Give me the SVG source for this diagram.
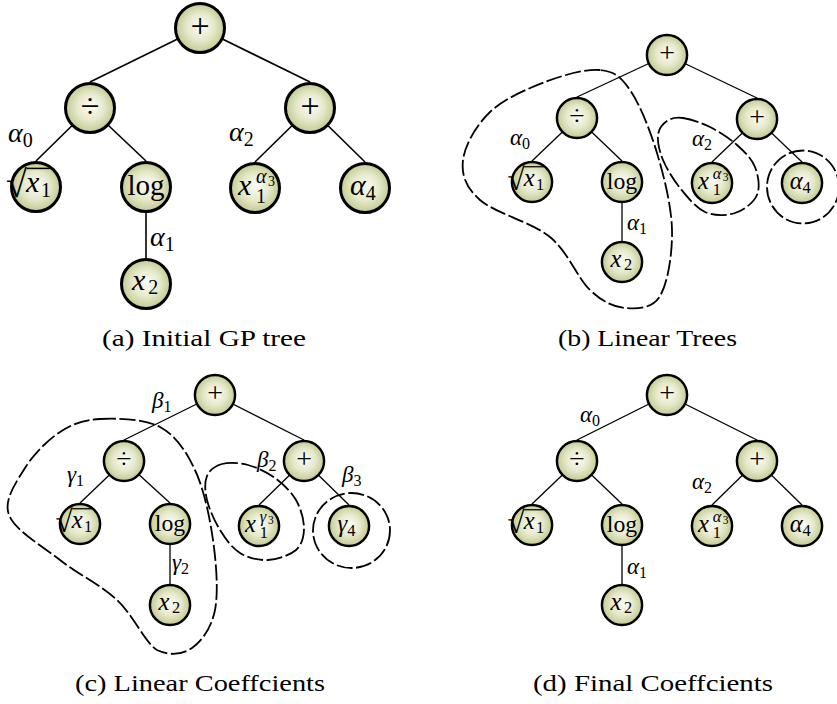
<svg xmlns="http://www.w3.org/2000/svg" width="837" height="704" viewBox="0 0 837 704" font-family="Liberation Serif, serif">
<defs>
<radialGradient id="ball" cx="0.5" cy="0.5" r="0.5" fx="0.52" fy="0.45">
<stop offset="0" stop-color="#fcfcf5"/>
<stop offset="0.55" stop-color="#e6e9cc"/>
<stop offset="1" stop-color="#c3ca90"/>
</radialGradient>
</defs>
<style>
.node{fill:url(#ball);stroke:#000;stroke-width:3}
.t{fill:#000}
.it{font-style:italic}
.up{font-style:normal}
.op{text-anchor:middle}
.edge{stroke:#000;fill:none}
.ea{stroke-width:1.6}
.eb{stroke-width:1.3}
.blob{fill:none;stroke:#000;stroke-width:1.8;stroke-dasharray:16 3.5}
.bar{stroke:#000;stroke-width:1.5}
.cap{font-size:24px;fill:#000}
</style>
<rect width="837" height="704" fill="#fff"/>

<g id="connectors">
<g class="edge ea">
<line x1="200" y1="28" x2="90" y2="82"/>
<line x1="200" y1="28" x2="310" y2="82"/>
<line x1="90" y1="108" x2="36" y2="161"/>
<line x1="90" y1="108" x2="146" y2="161"/>
<line x1="310" y1="108" x2="255" y2="162"/>
<line x1="310" y1="108" x2="365" y2="162"/>
<line x1="146" y1="187" x2="146" y2="258"/>
</g>
<g class="edge eb">
<line x1="667" y1="55" x2="577" y2="97"/>
<line x1="667" y1="55" x2="757" y2="98"/>
<line x1="577" y1="118" x2="532" y2="161"/>
<line x1="577" y1="118" x2="622" y2="161"/>
<line x1="757" y1="119" x2="712" y2="162"/>
<line x1="757" y1="119" x2="802" y2="162"/>
<line x1="622" y1="182" x2="622" y2="241"/>

<line x1="215" y1="395" x2="124" y2="440"/>
<line x1="215" y1="395" x2="304" y2="440"/>
<line x1="124" y1="461" x2="80" y2="503"/>
<line x1="124" y1="461" x2="170" y2="503"/>
<line x1="304" y1="461" x2="259" y2="505"/>
<line x1="304" y1="461" x2="349" y2="505"/>
<line x1="170" y1="524" x2="170" y2="584"/>

<line x1="667" y1="395" x2="577" y2="440"/>
<line x1="667" y1="395" x2="757" y2="440"/>
<line x1="577" y1="461" x2="532" y2="504"/>
<line x1="577" y1="461" x2="622" y2="504"/>
<line x1="757" y1="461" x2="712" y2="505"/>
<line x1="757" y1="461" x2="802" y2="505"/>
<line x1="622" y1="525" x2="622" y2="584"/>
</g>
</g>

<g id="groupings">
<path class="blob" d="M600,70 C585.8,68.7 563.3,75 545,82 C526.7,89 503.7,99 490,112 C476.3,125 464.7,145.3 463,160 C461.3,174.7 465.5,187.2 480,200 C494.5,212.8 531.7,222 550,237 C568.3,252 577.5,278.2 590,290 C602.5,301.8 613.3,307 625,308 C636.7,309 652.2,309 660,296 C667.8,283 672.5,253.8 672,230 C671.5,206.2 664,176.3 657,153 C650,129.7 639.5,103.8 630,90 C620.5,76.2 614.2,71.3 600,70 Z"/>
<path class="blob" d="M683,118 C690.2,119 701,122.5 710,127 C719,131.5 729.5,138.3 737,145 C744.5,151.7 751.7,158.7 755,167 C758.3,175.3 760.3,187.3 757,195 C753.7,202.7 743.7,210.2 735,213 C726.3,215.8 714.2,216.2 705,212 C695.8,207.8 687,196.7 680,188 C673,179.3 666.7,168.8 663,160 C659.3,151.2 657.3,141.5 658,135 C658.7,128.5 662.8,123.8 667,121 C671.2,118.2 675.8,117 683,118 Z"/>
<ellipse class="blob" cx="803" cy="187" rx="36" ry="36.5"/>
<path class="blob" d="M100,419 C116.7,418.2 144.2,418.5 160,427 C175.8,435.5 186.2,451.2 195,470 C203.8,488.8 209.7,516.7 213,540 C216.3,563.3 218.5,592 215,610 C211.5,628 201.7,641.3 192,648 C182.3,654.7 169.5,656 157,650 C144.5,642 133.2,615 117,600 C100.8,585 78,574.2 60,560 C42,545.8 14.8,530.3 9,515 C3.2,499.7 16.5,481.8 25,468 C33.5,454.2 47.5,440.2 60,432 C72.5,423.8 83.3,419.8 100,419 Z"/>
<path class="blob" d="M222,464 C228.8,462.2 239.2,462.7 248,465 C256.8,467.3 267,472.2 275,478 C283,483.8 291.2,491.7 296,500 C300.8,508.3 304,519.7 304,528 C304,536.3 302,544.7 296,550 C290,555.3 277.3,559.5 268,560 C258.7,560.5 248,558 240,553 C232,548 225.5,538.8 220,530 C214.5,521.2 209.2,509 207,500 C204.8,491 204.5,482 207,476 C209.5,470 215.2,465.8 222,464 Z"/>
<ellipse class="blob" cx="351.5" cy="530.5" rx="38.5" ry="37.5"/>
</g>

<!-- Panel (a) -->
<g id="a-root" transform="translate(200,28)"><circle class="node" r="24.5"/><text class="t op" y="9" font-size="34">+</text></g>
<g id="a-div" transform="translate(90,108)"><circle class="node" r="24.5"/><text class="t op" y="9" font-size="34">÷</text></g>
<g id="a-plus" transform="translate(310,108)"><circle class="node" r="24.5"/><text class="t op" y="9" font-size="34">+</text></g>
<g id="a-sqrt" transform="translate(36,187)"><circle class="node" r="24.5"/><line class="bar" x1="-9.5" y1="-18.6" x2="15" y2="-18.6"/><text class="t" font-size="38"><tspan x="-30" y="10">√</tspan><tspan class="it" x="-10" y="5" font-size="30">x</tspan><tspan x="5" y="10" font-size="20">1</tspan></text></g>
<g id="a-log" transform="translate(146,187)"><circle class="node" r="24.5"/><text class="t op" y="8" font-size="29">log</text></g>
<g id="a-pow" transform="translate(255,188)"><circle class="node" r="24.5"/><text class="t it" font-size="30"><tspan x="-17" y="7">x</tspan><tspan class="up" x="1" y="15" font-size="20">1</tspan><tspan x="1" y="-5" font-size="20">α</tspan><tspan class="up" x="13" y="-2" font-size="14">3</tspan></text></g>
<g id="a-alpha4" transform="translate(365,188)"><circle class="node" r="24.5"/><text class="t it" x="-15" y="7" font-size="30">α<tspan class="up" font-size="20" dy="5">4</tspan></text></g>
<g id="a-x2" transform="translate(146,284)"><circle class="node" r="24.5"/><text class="t it" x="-14" y="6" font-size="30">x<tspan class="up" font-size="20" dx="3" dy="4">2</tspan></text></g>
<g id="a-labels">
<text class="t it" x="8" y="142" font-size="28">α<tspan class="up" font-size="20" dy="5">0</tspan></text>
<text class="t it" x="229" y="141" font-size="28">α<tspan class="up" font-size="20" dy="5">2</tspan></text>
<text class="t it" x="150" y="246" font-size="28">α<tspan class="up" font-size="20" dy="5">1</tspan></text>
</g>

<!-- Panel (b) -->
<g id="b-root" transform="translate(667,55) scale(0.82)"><circle class="node" r="24.5"/><text class="t op" y="9" font-size="34">+</text></g>
<g id="b-div" transform="translate(577,118) scale(0.82)"><circle class="node" r="24.5"/><text class="t op" y="9" font-size="34">÷</text></g>
<g id="b-plus" transform="translate(757,119) scale(0.82)"><circle class="node" r="24.5"/><text class="t op" y="9" font-size="34">+</text></g>
<g id="b-sqrt" transform="translate(532,182) scale(0.82)"><circle class="node" r="24.5"/><line class="bar" x1="-9.5" y1="-18.6" x2="15" y2="-18.6"/><text class="t" font-size="38"><tspan x="-30" y="10">√</tspan><tspan class="it" x="-10" y="5" font-size="30">x</tspan><tspan x="5" y="10" font-size="20">1</tspan></text></g>
<g id="b-log" transform="translate(622,182) scale(0.82)"><circle class="node" r="24.5"/><text class="t op" y="8" font-size="29">log</text></g>
<g id="b-pow" transform="translate(712,183) scale(0.82)"><circle class="node" r="24.5"/><text class="t it" font-size="30"><tspan x="-17" y="7">x</tspan><tspan class="up" x="1" y="15" font-size="20">1</tspan><tspan x="1" y="-5" font-size="20">α</tspan><tspan class="up" x="13" y="-2" font-size="14">3</tspan></text></g>
<g id="b-alpha4" transform="translate(802,183) scale(0.82)"><circle class="node" r="24.5"/><text class="t it" x="-15" y="7" font-size="30">α<tspan class="up" font-size="20" dy="5">4</tspan></text></g>
<g id="b-x2" transform="translate(622,262) scale(0.82)"><circle class="node" r="24.5"/><text class="t it" x="-14" y="6" font-size="30">x<tspan class="up" font-size="20" dx="3" dy="4">2</tspan></text></g>
<g id="b-labels">
<text class="t it" x="510" y="145" font-size="23">α<tspan class="up" font-size="16" dy="4">0</tspan></text>
<text class="t it" x="692" y="146" font-size="23">α<tspan class="up" font-size="16" dy="4">2</tspan></text>
<text class="t it" x="627" y="230" font-size="23">α<tspan class="up" font-size="16" dy="4">1</tspan></text>
</g>

<!-- Panel (c) -->
<g id="c-root" transform="translate(215,395) scale(0.82)"><circle class="node" r="24.5"/><text class="t op" y="9" font-size="34">+</text></g>
<g id="c-div" transform="translate(124,461) scale(0.82)"><circle class="node" r="24.5"/><text class="t op" y="9" font-size="34">÷</text></g>
<g id="c-plus" transform="translate(304,461) scale(0.82)"><circle class="node" r="24.5"/><text class="t op" y="9" font-size="34">+</text></g>
<g id="c-sqrt" transform="translate(80,524) scale(0.82)"><circle class="node" r="24.5"/><line class="bar" x1="-9.5" y1="-18.6" x2="15" y2="-18.6"/><text class="t" font-size="38"><tspan x="-30" y="10">√</tspan><tspan class="it" x="-10" y="5" font-size="30">x</tspan><tspan x="5" y="10" font-size="20">1</tspan></text></g>
<g id="c-log" transform="translate(170,524) scale(0.82)"><circle class="node" r="24.5"/><text class="t op" y="8" font-size="29">log</text></g>
<g id="c-pow" transform="translate(259,526) scale(0.82)"><circle class="node" r="24.5"/><text class="t it" font-size="30"><tspan x="-17" y="7">x</tspan><tspan class="up" x="1" y="15" font-size="20">1</tspan><tspan x="1" y="-5" font-size="20">γ</tspan><tspan class="up" x="11" y="-2" font-size="14">3</tspan></text></g>
<g id="c-gamma4" transform="translate(349,526) scale(0.82)"><circle class="node" r="24.5"/><text class="t it" x="-14" y="7" font-size="30">γ<tspan class="up" font-size="20" dy="5">4</tspan></text></g>
<g id="c-x2" transform="translate(170,605) scale(0.82)"><circle class="node" r="24.5"/><text class="t it" x="-14" y="6" font-size="30">x<tspan class="up" font-size="20" dx="3" dy="4">2</tspan></text></g>
<g id="c-labels">
<text class="t it" x="152" y="408" font-size="23">β<tspan class="up" font-size="16" dy="4">1</tspan></text>
<text class="t it" x="67" y="482" font-size="23">γ<tspan class="up" font-size="16" dy="4">1</tspan></text>
<text class="t it" x="172" y="570" font-size="23">γ<tspan class="up" font-size="16" dy="4">2</tspan></text>
<text class="t it" x="257" y="467" font-size="23">β<tspan class="up" font-size="16" dy="4">2</tspan></text>
<text class="t it" x="342" y="482" font-size="23">β<tspan class="up" font-size="16" dy="4">3</tspan></text>
</g>

<!-- Panel (d) -->
<g id="d-root" transform="translate(667,395) scale(0.82)"><circle class="node" r="24.5"/><text class="t op" y="9" font-size="34">+</text></g>
<g id="d-div" transform="translate(577,461) scale(0.82)"><circle class="node" r="24.5"/><text class="t op" y="9" font-size="34">÷</text></g>
<g id="d-plus" transform="translate(757,461) scale(0.82)"><circle class="node" r="24.5"/><text class="t op" y="9" font-size="34">+</text></g>
<g id="d-sqrt" transform="translate(532,525) scale(0.82)"><circle class="node" r="24.5"/><line class="bar" x1="-9.5" y1="-18.6" x2="15" y2="-18.6"/><text class="t" font-size="38"><tspan x="-30" y="10">√</tspan><tspan class="it" x="-10" y="5" font-size="30">x</tspan><tspan x="5" y="10" font-size="20">1</tspan></text></g>
<g id="d-log" transform="translate(622,525) scale(0.82)"><circle class="node" r="24.5"/><text class="t op" y="8" font-size="29">log</text></g>
<g id="d-pow" transform="translate(712,526) scale(0.82)"><circle class="node" r="24.5"/><text class="t it" font-size="30"><tspan x="-17" y="7">x</tspan><tspan class="up" x="1" y="15" font-size="20">1</tspan><tspan x="1" y="-5" font-size="20">α</tspan><tspan class="up" x="13" y="-2" font-size="14">3</tspan></text></g>
<g id="d-alpha4" transform="translate(802,526) scale(0.82)"><circle class="node" r="24.5"/><text class="t it" x="-15" y="7" font-size="30">α<tspan class="up" font-size="20" dy="5">4</tspan></text></g>
<g id="d-x2" transform="translate(622,605) scale(0.82)"><circle class="node" r="24.5"/><text class="t it" x="-14" y="6" font-size="30">x<tspan class="up" font-size="20" dx="3" dy="4">2</tspan></text></g>
<g id="d-labels">
<text class="t it" x="580" y="422" font-size="23">α<tspan class="up" font-size="16" dy="4">0</tspan></text>
<text class="t it" x="692" y="489" font-size="23">α<tspan class="up" font-size="16" dy="4">2</tspan></text>
<text class="t it" x="627" y="574" font-size="23">α<tspan class="up" font-size="16" dy="4">1</tspan></text>
</g>

<g id="captions">
<text class="cap" x="102" y="346" textLength="204" lengthAdjust="spacingAndGlyphs">(a) Initial GP tree</text>
<text class="cap" x="558" y="346" textLength="179" lengthAdjust="spacingAndGlyphs">(b) Linear Trees</text>
<text class="cap" x="75" y="691" textLength="250" lengthAdjust="spacingAndGlyphs">(c) Linear Coeffcients</text>
<text class="cap" x="533" y="691" textLength="240" lengthAdjust="spacingAndGlyphs">(d) Final Coeffcients</text>
</g>
</svg>
